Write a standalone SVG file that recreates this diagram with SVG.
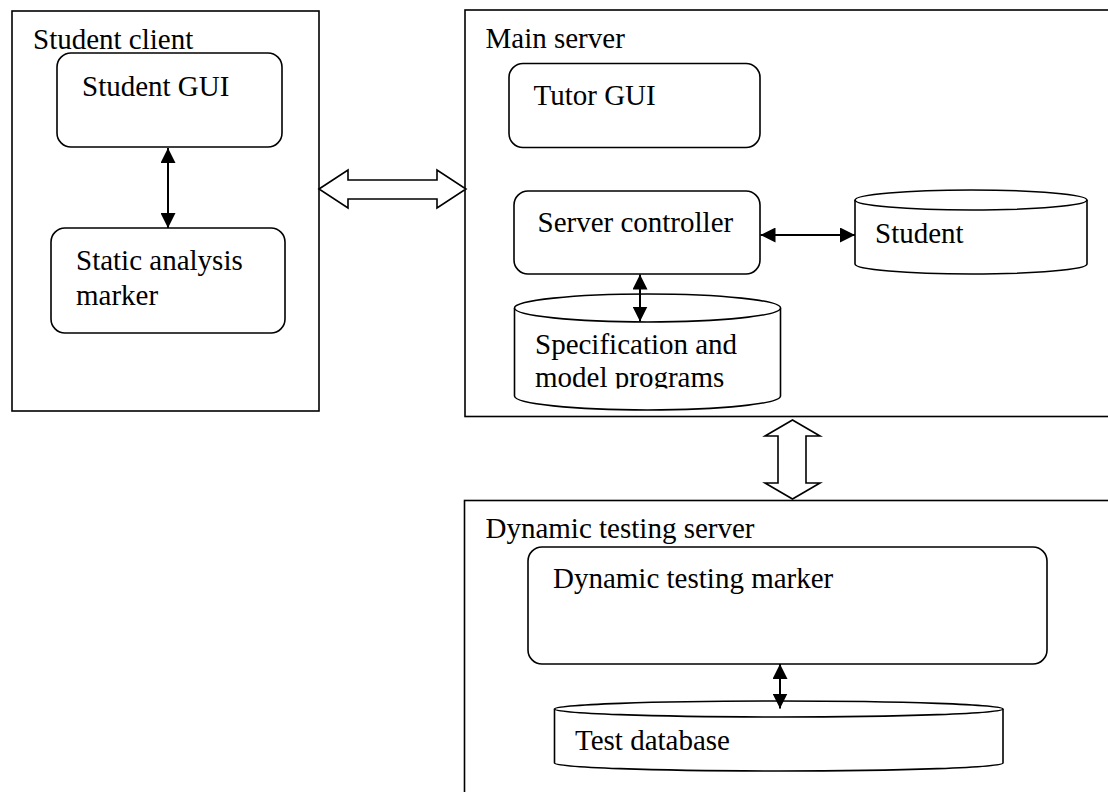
<svg xmlns="http://www.w3.org/2000/svg" width="1108" height="792" viewBox="0 0 1108 792">
  <style>
    .frame { fill: #fff; stroke: #000; stroke-width: 1.6; }
    .box { fill: #fff; stroke: #000; stroke-width: 1.6; }
    .db { fill: #fff; stroke: #000; stroke-width: 1.6; }
    .label { font-family: "Liberation Serif", "Times New Roman", serif; font-size: 29px; fill: #000; }
    .link { stroke: #000; stroke-width: 2; fill: none; marker-start: url(#head); marker-end: url(#head); }
    .pipe { fill: #fff; stroke: #000; stroke-width: 1.6; stroke-linejoin: miter; }
  </style>
  <defs>
    <marker id="head" viewBox="0 0 15 15" refX="15" refY="7.5" markerWidth="15" markerHeight="15" markerUnits="userSpaceOnUse" orient="auto-start-reverse">
      <path d="M0,0 L15,7.5 L0,15 z" fill="#000"/>
    </marker>
    <clipPath id="specClip">
      <rect x="514" y="290" width="268" height="98.5"/>
    </clipPath>
  </defs>

  <rect width="1108" height="792" fill="#fff"/>

  <!-- Student client -->
  <g id="student-client">
    <rect class="frame" x="12" y="11" width="307" height="400"/>
    <text class="label" x="33" y="49">Student client</text>
  </g>
  <g id="student-gui">
    <rect class="box" x="57" y="53" width="225" height="94" rx="14"/>
    <text class="label" x="82" y="96">Student GUI</text>
  </g>
  <g id="static-analysis-marker">
    <rect class="box" x="51" y="228" width="234" height="105" rx="14"/>
    <text class="label" x="76" y="270">Static analysis</text>
    <text class="label" x="76" y="305">marker</text>
  </g>

  <!-- Main server -->
  <g id="main-server">
    <rect class="frame" x="465" y="10" width="660" height="406.5"/>
    <text class="label" x="485.5" y="48">Main server</text>
  </g>
  <g id="tutor-gui">
    <rect class="box" x="509" y="63.5" width="251" height="84" rx="14"/>
    <text class="label" x="533.5" y="105">Tutor GUI</text>
  </g>
  <g id="server-controller">
    <rect class="box" x="514" y="191" width="246" height="83" rx="14"/>
    <text class="label" x="537.5" y="232">Server controller</text>
  </g>
  <g id="student-db">
    <path class="db" d="M855,200 V264 A116,10 0 0 0 1087,264 V200"/>
    <ellipse class="db" cx="971" cy="200" rx="116" ry="10"/>
    <text class="label" x="875" y="242.5">Student</text>
  </g>
  <g id="specification-db">
    <path class="db" d="M514.5,308 V396 A133,14 0 0 0 780.5,396 V308"/>
    <ellipse class="db" cx="647.5" cy="308" rx="133" ry="14"/>
    <g clip-path="url(#specClip)">
      <text class="label" x="535" y="354">Specification and</text>
      <text class="label" x="535" y="386.5">model programs</text>
    </g>
  </g>

  <!-- Dynamic testing server -->
  <g id="dynamic-testing-server">
    <rect class="frame" x="464.5" y="500.5" width="700" height="320"/>
    <text class="label" x="485.5" y="538">Dynamic testing server</text>
  </g>
  <g id="dynamic-testing-marker">
    <rect class="box" x="528" y="547" width="519" height="117" rx="14"/>
    <text class="label" x="553" y="588">Dynamic testing marker</text>
  </g>
  <g id="test-database">
    <path class="db" d="M554.5,709 V763 A224.25,8 0 0 0 1003,763 V709"/>
    <ellipse class="db" cx="778.75" cy="709" rx="224.25" ry="8"/>
    <text class="label" x="575" y="750">Test database</text>
  </g>

  <!-- Connectors -->
  <g id="connectors">
    <line class="link" x1="168" y1="148" x2="168" y2="228"/>
    <line class="link" x1="760.5" y1="235" x2="855" y2="235"/>
    <line class="link" x1="640" y1="274.5" x2="640" y2="321.5"/>
    <line class="link" x1="780" y1="664" x2="780" y2="708.5"/>
    <polygon class="pipe" points="319,189 348,170 348,180 437,180 437,170 466,189 437,208 437,199 348,199 348,208"/>
    <polygon class="pipe" points="792.5,420 820,436 806,436 806,483 820,483 792.5,499 765,483 778,483 778,436 765,436"/>
  </g>
</svg>
